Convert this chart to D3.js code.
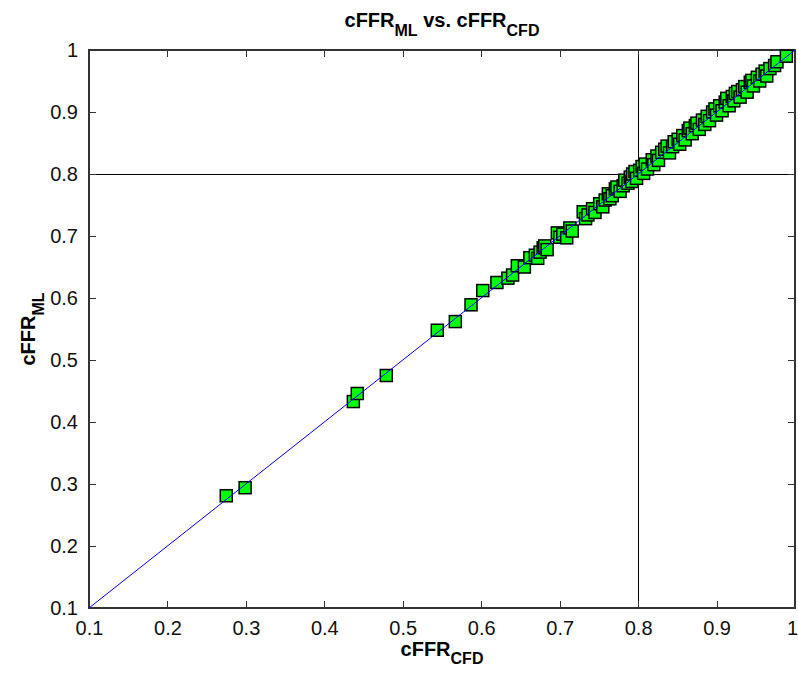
<!DOCTYPE html>
<html>
<head>
<meta charset="utf-8">
<script src="https://cdn.jsdelivr.net/npm/d3@7"></script>
<style>
html,body{margin:0;padding:0;background:#fff;}
svg{display:block;}
text{font-family:"Liberation Sans",Arial,sans-serif;}
</style>
</head>
<body>
<svg id="chart" width="798" height="675"></svg>
<script>
// ---- data ----
const cfdValues = [
 0.275,0.299,0.437,0.442,0.479,0.544,0.567,0.587,0.602,0.620,0.634,
 0.640,0.646,0.655,0.662,0.669,0.672,0.675,0.679,0.681,0.684,
 0.697,0.700,0.704,0.709,0.713,0.716,0.730,0.733,0.736,0.742,
 0.745,0.751,0.755,0.758,0.762,0.764,0.767,0.771,0.773,0.777,
 0.781,0.783,0.787,0.790,0.792,0.793,0.796,0.798,0.802,0.805,
 0.807,0.809,0.812,0.818,0.820,0.824,0.826,0.830,0.834,0.837,
 0.840,0.844,0.846,0.851,0.853,0.857,0.860,0.864,0.866,0.869,
 0.873,0.875,0.878,0.882,0.885,0.888,0.891,0.895,0.898,0.900,
 0.904,0.907,0.911,0.913,0.916,0.920,0.922,0.924,0.927,0.930,
 0.933,0.936,0.939,0.943,0.945,0.947,0.952,0.955,0.958,0.962,
 0.964,0.968,0.974,0.977,0.989
];
const mlValues = [
 0.281,0.294,0.433,0.446,0.475,0.548,0.562,0.589,0.612,0.625,0.632,
 0.637,0.652,0.650,0.665,0.669,0.664,0.674,0.681,0.684,0.678,
 0.705,0.698,0.703,0.697,0.713,0.708,0.739,0.728,0.734,0.744,
 0.738,0.752,0.747,0.758,0.768,0.760,0.765,0.776,0.779,0.772,
 0.781,0.790,0.785,0.795,0.788,0.800,0.804,0.793,0.806,0.812,
 0.801,0.816,0.808,0.823,0.815,0.829,0.822,0.835,0.840,0.845,
 0.834,0.844,0.852,0.856,0.848,0.862,0.855,0.870,0.874,0.865,
 0.878,0.882,0.872,0.887,0.880,0.893,0.886,0.900,0.905,0.895,
 0.910,0.902,0.916,0.922,0.910,0.925,0.918,0.930,0.933,0.924,
 0.936,0.941,0.932,0.948,0.951,0.942,0.956,0.950,0.961,0.966,
 0.958,0.970,0.975,0.981,0.990
];
const tickValues = [0.1,0.2,0.3,0.4,0.5,0.6,0.7,0.8,0.9,1];
const tickLabels = ["0.1","0.2","0.3","0.4","0.5","0.6","0.7","0.8","0.9","1"];
const thresholds = [0.8];
const identityLine = [0.1, 1];

// ---- layout ----
const svg = d3.select("#chart");
const L = 89, R = 795, T = 50, B = 608;
const x = d3.scaleLinear().domain([0.1, 1]).range([L, R]);
const y = d3.scaleLinear().domain([0.1, 1]).range([B, T]);
const axisColor = "#333";
const tickFmt = (d, i) => tickLabels[i];

// threshold lines
svg.selectAll(".vthr").data(thresholds).enter().append("line")
  .attr("x1", d => x(d)).attr("x2", d => x(d)).attr("y1", T).attr("y2", B)
  .attr("stroke", "#000").attr("stroke-width", 1).attr("shape-rendering","crispEdges");
svg.selectAll(".hthr").data(thresholds).enter().append("line")
  .attr("y1", d => y(d)).attr("y2", d => y(d)).attr("x1", L).attr("x2", R)
  .attr("stroke", "#000").attr("stroke-width", 1).attr("shape-rendering","crispEdges");

// axes (ticks inward on all four sides)
function styleAxis(g){
  g.select(".domain").remove();
  g.selectAll(".tick line").attr("stroke", axisColor).attr("shape-rendering","crispEdges");
  g.selectAll(".tick text").attr("fill", "#111")
    .style("font-family", "'Liberation Sans',Arial,sans-serif").style("font-size", "20px");
}
svg.append("g").attr("transform", `translate(0,${B})`)
  .call(d3.axisBottom(x).tickValues(tickValues).tickFormat(tickFmt).tickSizeInner(-7).tickSizeOuter(0).tickPadding(13))
  .call(styleAxis)
  .call(g => g.selectAll(".tick text").attr("dy", "0.71em")
    .attr("dx", (d, i) => i === tickValues.length - 1 ? -3 : 0));
svg.append("g").attr("transform", `translate(0,${T})`)
  .call(d3.axisTop(x).tickValues(tickValues).tickSizeInner(-7).tickSizeOuter(0).tickFormat(""))
  .call(styleAxis);
svg.append("g").attr("transform", `translate(${L},0)`)
  .call(d3.axisLeft(y).tickValues(tickValues).tickFormat(tickFmt).tickSizeInner(-7).tickSizeOuter(0).tickPadding(11))
  .call(styleAxis);
svg.append("g").attr("transform", `translate(${R},0)`)
  .call(d3.axisRight(y).tickValues(tickValues).tickSizeInner(-7).tickSizeOuter(0).tickFormat(""))
  .call(styleAxis);

// frame
svg.append("rect").attr("x", L).attr("y", T).attr("width", R - L).attr("height", B - T)
  .attr("fill", "none").attr("stroke", axisColor).attr("stroke-width", 1.2)
  .attr("shape-rendering","crispEdges");

// markers
const pts = cfdValues.map((v, i) => ({cfd: v, ml: mlValues[i]}));
const S = 12;
svg.append("g").selectAll("rect").data(pts).enter().append("rect")
  .attr("x", d => x(d.cfd) - S/2).attr("y", d => y(d.ml) - S/2)
  .attr("width", S).attr("height", S)
  .attr("fill", "#00ff00").attr("stroke", "#000").attr("stroke-width", 1.5);

// identity line
svg.append("line")
  .attr("x1", x(identityLine[0])).attr("y1", y(identityLine[0]))
  .attr("x2", x(identityLine[1])).attr("y2", y(identityLine[1]))
  .attr("stroke", "#0000ff").attr("stroke-width", 1);

// labels with subscripts
function subLabel(sel, main, sub, subSize, drop){
  sel.append("tspan").text(main);
  sel.append("tspan").attr("dy", drop).style("font-size", subSize + "px").text(sub);
}
const title = svg.append("text").attr("x", (L + R) / 2).attr("y", 27)
  .attr("text-anchor", "middle").style("font-weight", "bold").style("font-size", "20px");
title.append("tspan").text("cFFR");
title.append("tspan").attr("dy", 9).style("font-size", "16px").text("ML");
title.append("tspan").attr("dy", -9).text(" vs. cFFR");
title.append("tspan").attr("dy", 9).style("font-size", "16px").text("CFD");

const xl = svg.append("text").attr("x", (L + R) / 2).attr("y", 656)
  .attr("text-anchor", "middle").style("font-weight", "bold").style("font-size", "20px");
subLabel(xl, "cFFR", "CFD", 16, 8);

const yl = svg.append("text").attr("transform", `translate(35,${(T + B) / 2}) rotate(-90)`)
  .attr("text-anchor", "middle").style("font-weight", "bold").style("font-size", "20px");
subLabel(yl, "cFFR", "ML", 16, 9);
</script>
</body>
</html>
